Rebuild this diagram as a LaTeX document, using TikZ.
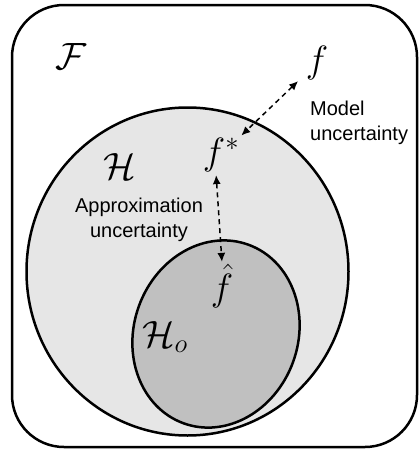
\RequirePackage{fix-cm}
\documentclass[tikz,border=0pt]{standalone}
\definecolor{hspace}{RGB}{230,230,230}
\definecolor{hospace}{RGB}{192,192,192}
\usepackage{amsmath,amssymb}
\usepackage{fontspec}
\newfontfamily\labelfont{Liberation Sans}
\usepackage{tikz}
\usetikzlibrary{arrows.meta,positioning,calc}

\tikzset{
    setline/.style={line width=2.5pt},
    mathlbl/.style={inner sep=1pt, font=\fontsize{38}{40}\selectfont},
    textlbl/.style={inner sep=0pt, font=\labelfont\fontsize{20}{25}\selectfont},
    uarrow/.style={line width=1.5pt, dash pattern=on 5pt off 4pt,
        {Latex[length=9pt,width=8pt]}-{Latex[length=9pt,width=8pt]}}
}

\begin{document}
\begin{tikzpicture}[x=1pt,y=-1pt]
            \useasboundingbox (0,0) rectangle (419,450);
            % sets
            \draw[setline, rounded corners=52pt] (12,5) rectangle (417,447);
            \draw[setline, fill=hspace] (187.5,271.5) ellipse [x radius=161, y radius=164];
            \draw[setline, fill=hospace] (216,334) ellipse [x radius=82, y radius=95, rotate=-20];

            \node[mathlbl] (F) at (71,57) {$\mathcal{F}$};
            \node[mathlbl] (H) at (120,167) {$\mathcal{H}$};
            \node[mathlbl] (Ho) at (165,337) {$\mathcal{H}_o$};

            \node[mathlbl] (f) at (317,63) {$f$};
            \node[mathlbl] (fstar) at (221,155) {$f^{*}$};
            \node[mathlbl] (fhat) at (222,286) {$\hat{f}$};

            \node[textlbl, align=left, anchor=west] (model) at (310,123) {Model\\uncertainty};
            \node[textlbl, align=center] (approx) at (139,220) {Approximation\\uncertainty};

            \draw[uarrow, shorten <=9pt, shorten >=2pt] (f) -- (fstar);
            \draw[uarrow, shorten <=2pt, shorten >=1pt] ([xshift=-5pt]fstar.south) -- (fhat.north);
        \end{tikzpicture}
\end{document}
